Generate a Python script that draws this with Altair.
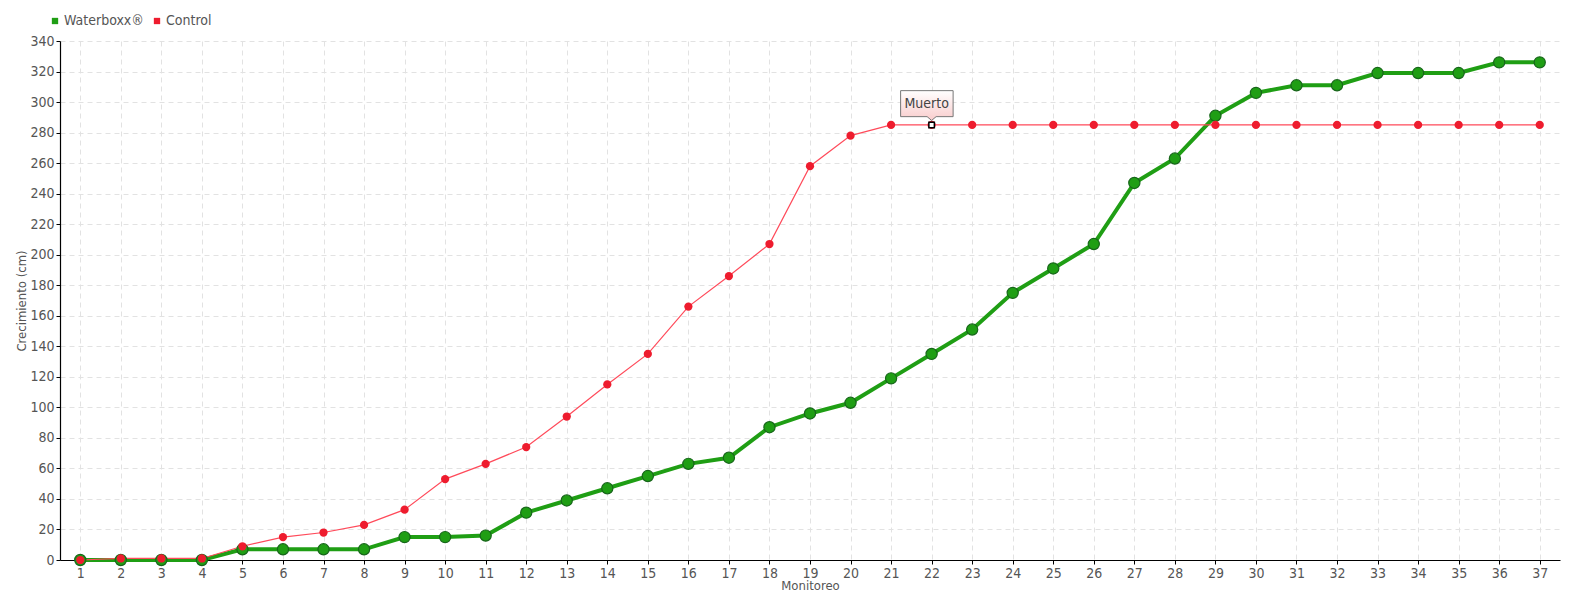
import altair as alt
import pandas as pd

monitoreo = list(range(1, 38))
series = ["Waterboxx®", "Control"]
waterboxx = [0, 0, 0, 0, 7, 7, 7, 7, 15, 15, 16, 31, 39, 47, 55, 63, 67, 87, 96, 103,
             119, 135, 151, 175, 191, 207, 247, 263, 291, 306, 311, 311, 319, 319, 319, 326, 326]
control = [0, 1, 1, 1, 9, 15, 18, 23, 33, 53, 63, 74, 94, 115, 135, 166, 186, 207, 258, 278,
           285, 285, 285, 285, 285, 285, 285, 285, 285, 285, 285, 285, 285, 285, 285, 285, 285]
y_ticks = list(range(0, 341, 20))
ann_x = [22]
ann_y = [285]
ann_text = ["Muerto"]

GREEN = "#1f9e14"
RED = "#ee1c2e"
FONT = "DejaVu Sans Condensed, DejaVu Sans, sans-serif"

df = pd.DataFrame({
    "Monitoreo": monitoreo * 2,
    "Crecimiento": waterboxx + control,
    "Serie": [series[0]] * len(monitoreo) + [series[1]] * len(monitoreo),
})
ann = pd.DataFrame({"Monitoreo": ann_x, "Crecimiento": ann_y, "label": ann_text})

x_enc = alt.X("Monitoreo:Q",
              scale=alt.Scale(domain=[0.5, 37.5], nice=False, zero=False),
              axis=alt.Axis(values=monitoreo, format="d", title="Monitoreo",
                            titlePadding=-1, labelPadding=2, labelOverlap=False,
                            tickCount=60))
y_enc = alt.Y("Crecimiento:Q",
              scale=alt.Scale(domain=[0, 340], nice=False),
              axis=alt.Axis(values=y_ticks, format="d", title="Crecimiento (cm)",
                            titlePadding=1, labelPadding=2, labelOverlap=False,
                            labelFlush=False, tickCount=60))
color_scale = alt.Scale(domain=series, range=[GREEN, RED])

base = alt.Chart(df).encode(x=x_enc, y=y_enc)

green_line = base.transform_filter(alt.datum.Serie == series[0]).mark_line(
    strokeWidth=4, color=GREEN)
red_line = base.transform_filter(alt.datum.Serie == series[1]).mark_line(
    strokeWidth=1.2, color="#ff4a5a")
green_pts = base.transform_filter(alt.datum.Serie == series[0]).mark_circle(
    size=125, opacity=1, stroke="#17661a", strokeWidth=1.2).encode(
    color=alt.Color("Serie:N", scale=color_scale,
                    legend=alt.Legend(title=None, orient="none", legendX=-12, legendY=-27,
                                      direction="horizontal", symbolType="square",
                                      symbolSize=40, symbolStrokeWidth=0,
                                      labelFontSize=14, labelFont=FONT, labelColor="#555",
                                      columnPadding=6, labelOffset=2)))
red_pts = base.transform_filter(alt.datum.Serie == series[1]).mark_circle(
    size=68, opacity=1).encode(
    color=alt.Color("Serie:N", scale=color_scale))

callout_path = ("M-3.1,-3.43 L2.15,-3.43 L2.15,-0.83 L0.45,-0.83 L0,-0.45 "
                "L-0.45,-0.83 L-3.1,-0.83 Z")
ann_base = alt.Chart(ann).encode(x=x_enc, y=y_enc)
box = ann_base.mark_point(
    shape=callout_path, size=400, filled=True, opacity=1,
    fill=alt.LinearGradient(gradient="linear",
                            stops=[alt.GradientStop(color="#ffffff", offset=0),
                                   alt.GradientStop(color="#f9cccc", offset=1)],
                            x1=0, x2=0, y1=0, y2=1),
    stroke="#777777", strokeWidth=1)
marker = ann_base.mark_point(shape="square", size=30, filled=True, opacity=1,
                             fill="white", stroke="black", strokeWidth=1.5)
label = ann_base.mark_text(dx=-5, dy=-21, font=FONT, fontSize=14, color="#444").encode(
    text="label:N")

chart = alt.layer(green_line, red_line, green_pts, red_pts, box, marker, label).properties(
    width=1500, height=519,
    autosize=alt.AutoSizeParams(type="none"),
    padding={"left": 52, "top": 33, "right": 12, "bottom": 40},
).configure_view(stroke=None).configure_axis(
    labelFont=FONT, titleFont=FONT, labelFontSize=14, titleFontSize=13,
    labelColor="#555", titleColor="#555", titleFontWeight="normal",
    domainColor="#000", domainWidth=1.2, tickColor="#000", tickSize=4,
    gridColor="#e2e2e2", gridDash=[5, 4], gridWidth=1,
)

chart.save("out.html", embed_options={"renderer": "svg", "actions": False})
